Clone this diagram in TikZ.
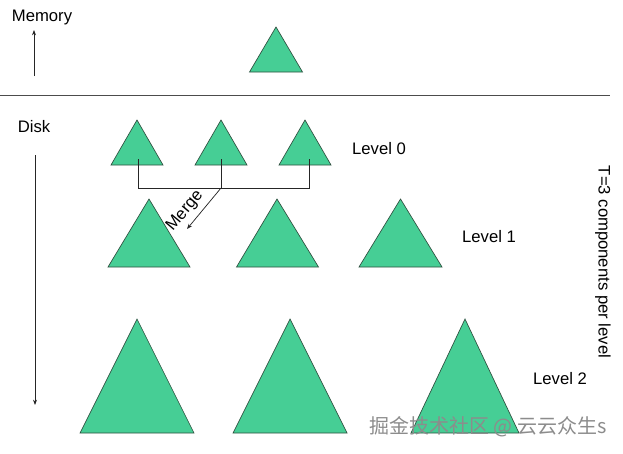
\documentclass[tikz,border=0pt]{standalone}
\usepackage{fontspec}
\setmainfont{Liberation Sans}
\newfontfamily\cjk{Noto Sans CJK SC}
\usetikzlibrary{arrows.meta}
\definecolor{trigreen}{HTML}{46CE95}
\definecolor{triedge}{HTML}{2F4F3F}
\tikzset{
  tri/.style={fill=trigreen,draw=triedge,line width=0.5pt,line join=miter},
  conn/.style={draw=black!85,line width=0.55pt},
  arr/.style={conn,-{Stealth[length=4pt,width=3pt]}},
  lbl/.style={font=\fontsize{12.5}{15}\selectfont,inner sep=0pt,text=black}
}
\begin{document}
\begin{tikzpicture}[x=0.75pt,y=-0.75pt]
\useasboundingbox (0,0) rectangle (623,453);
% memory / disk labels
\node[lbl] (mem) at (42,17) {Memory};
\node[lbl] (disk) at (34,127) {Disk};
\coordinate (ua) at (34,76); \coordinate (ub) at (34,30);
\draw[arr] (ua) -- (ub);
\coordinate (da) at (35,155); \coordinate (db) at (35,405);
\draw[arr] (da) -- (db);
% separator
\coordinate (s0) at (0,95.5); \coordinate (s1) at (610,95.5);
\draw[draw=black!70,line width=0.7pt] (s0) -- (s1);
% memory triangle
\draw[tri] (276,27) -- (302.5,72) -- (249.5,72) -- cycle;
% level 0
\draw[tri] (137,120) -- (163,165) -- (111,165) -- cycle;
\draw[tri] (221,120) -- (247,165) -- (195,165) -- cycle;
\draw[tri] (305,120) -- (331,165) -- (279,165) -- cycle;
% level 1
\draw[tri] (149,199) -- (190,267) -- (108,267) -- cycle;
\draw[tri] (277,199) -- (318.5,267) -- (236.5,267) -- cycle;
\draw[tri] (400.5,199) -- (442,267) -- (359,267) -- cycle;
% level 2
\draw[tri] (137,319) -- (194,433) -- (80,433) -- cycle;
\draw[tri] (290,319) -- (347,433) -- (233,433) -- cycle;
\draw[tri] (465,319) -- (519,433) -- (411,433) -- cycle;
% merge connectors
\coordinate (c0) at (138,159); \coordinate (c1) at (221,159); \coordinate (c2) at (309,159);
\coordinate (b0) at (138,188); \coordinate (b1) at (221,188); \coordinate (b2) at (309,188);
\coordinate (m) at (187,229);
\draw[conn] (c0) -- (b0) -- (b2) -- (c2);
\draw[conn] (c1) -- (b1);
\draw[arr] (b1) -- (m);
\node[lbl,rotate=50] (merge) at (185,211) {Merge};
% level labels
\node[lbl] (l0) at (379,149) {Level 0};
\node[lbl] (l1) at (489,237) {Level 1};
\node[lbl] (l2) at (560,379) {Level 2};
\node[lbl,rotate=-90] (t3) at (603,262) {T=3 components per level};
% watermark
\node[inner sep=0pt,text=black!45,font=\cjk\fontsize{15}{18}\selectfont] (wm) at (488,427) {掘金技术社区 @ 云云众生s};
\end{tikzpicture}
\end{document}
